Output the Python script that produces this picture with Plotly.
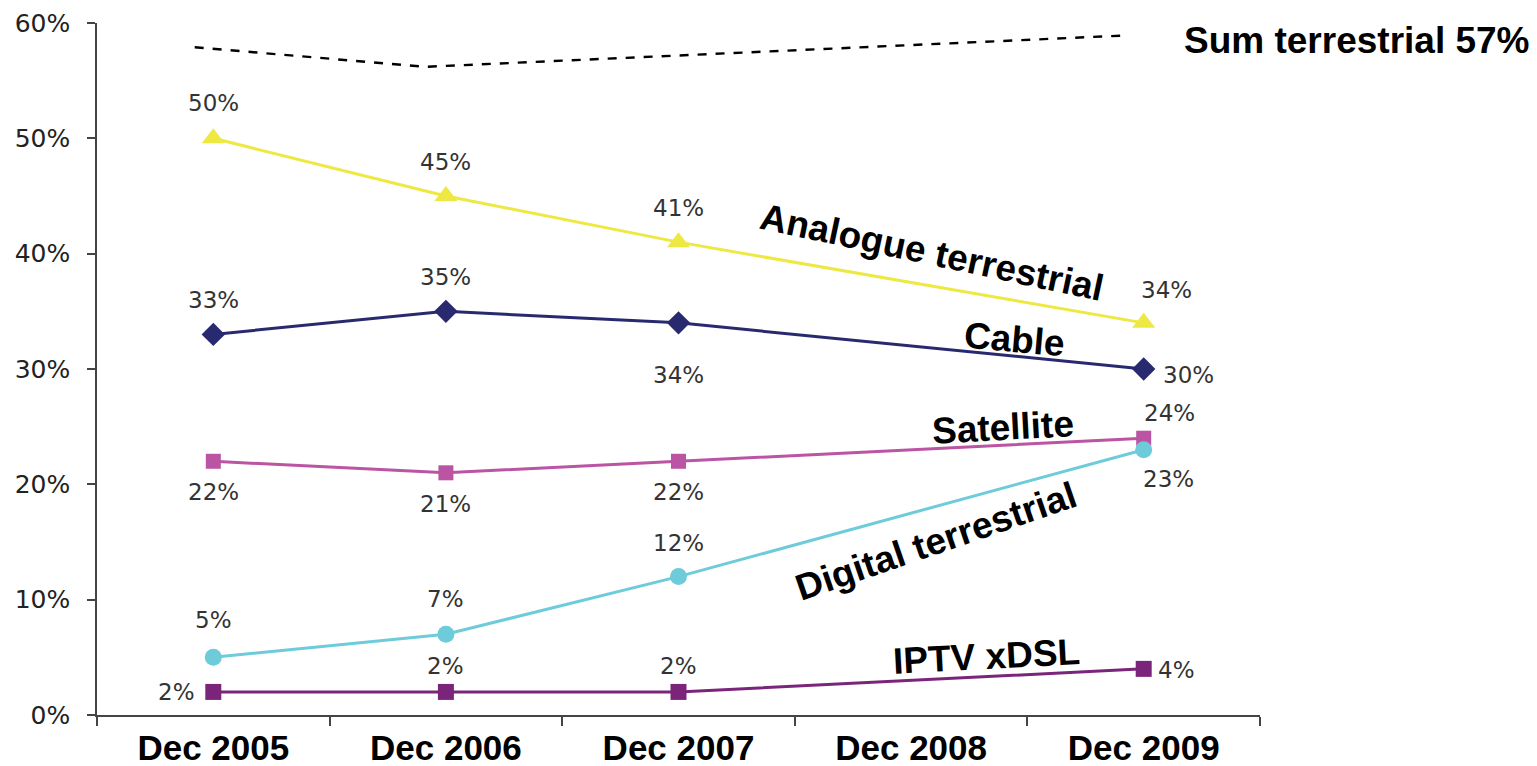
import plotly.graph_objects as go

# ---------------- data ----------------
categories = ["Dec 2005", "Dec 2006", "Dec 2007", "Dec 2008", "Dec 2009"]
point_dates = ["Dec 2005", "Dec 2006", "Dec 2007", "Dec 2009"]

analogue = [50, 45, 41, 34]
cable = [33, 35, 34, 30]
satellite = [22, 21, 22, 24]
digital = [5, 7, 12, 23]
iptv = [2, 2, 2, 4]

# decorative dashed "Sum terrestrial" guide line
sum_x = [-0.08, 0.91, 3.90]
sum_values = [57.9, 56.2, 58.9]
sum_label = "Sum terrestrial 57%"

y_ticks = [0, 10, 20, 30, 40, 50, 60]
y_tick_labels = [f"{v}%" for v in y_ticks]

# ---------------- styles ----------------
series = [
    dict(name="Analogue terrestrial", y=analogue, color="#EDE842", symbol="triangle-up", size=20,
         offsets=[(0, 35), (0, 34), (0, 34), (23, 33)]),
    dict(name="Cable", y=cable, color="#29296F", symbol="diamond", size=18,
         offsets=[(0, 34), (0, 34), (0, -52), (45, -6)]),
    dict(name="Satellite", y=satellite, color="#BA54A3", symbol="square", size=15,
         offsets=[(0, -31), (0, -31), (0, -31), (26, 25)]),
    dict(name="Digital terrestrial", y=digital, color="#6ECBDA", symbol="circle", size=17,
         offsets=[(0, 37), (0, 35), (0, 34), (25, -29)]),
    dict(name="IPTV xDSL", y=iptv, color="#7A2579", symbol="square", size=16,
         offsets=[(-37, 0), (0, 26), (0, 26), (33, -1)]),
]

label_font = dict(family="DejaVu Sans, Verdana, sans-serif", size=23, color="#333333")
axis_font = dict(family="DejaVu Sans, Verdana, sans-serif", size=25, color="#222222")
bold_font = dict(family="Liberation Sans, Arial, sans-serif", size=37, color="#000000")
xtick_font = dict(family="Liberation Sans, Arial, sans-serif", size=35, color="#000000")

fig = go.Figure()

fig.add_trace(go.Scatter(
    x=sum_x, y=sum_values, xaxis="x2", yaxis="y", mode="lines",
    line=dict(color="#000000", width=2.4, dash="dash"), showlegend=False, hoverinfo="skip"))

annotations = []
for s in series:
    fig.add_trace(go.Scatter(
        x=point_dates, y=s["y"], mode="lines+markers", name=s["name"],
        line=dict(color=s["color"], width=3),
        marker=dict(color=s["color"], symbol=s["symbol"], size=s["size"]),
        showlegend=False))
    for xd, yv, (dx, dy) in zip(point_dates, s["y"], s["offsets"]):
        annotations.append(dict(
            x=xd, y=yv, xref="x", yref="y", text=f"{yv}%", showarrow=False,
            xshift=dx, yshift=dy, font=label_font, xanchor="center", yanchor="middle"))

# series name labels (paper coordinates)
series_labels = [
    ("Analogue terrestrial", 0.718, 0.668, 12),
    ("Cable", 0.789, 0.542, 5),
    ("Satellite", 0.779, 0.415, -3),
    ("Digital terrestrial", 0.721, 0.251, -19),
    ("IPTV xDSL", 0.765, 0.085, -3),
    (sum_label, 1.083, 0.975, 0),
]
for text, xp, yp, ang in series_labels:
    annotations.append(dict(
        x=xp, y=yp, xref="paper", yref="paper", text=f"<b>{text}</b>", showarrow=False,
        textangle=ang, font=bold_font, xanchor="center", yanchor="middle"))

fig.update_layout(
    width=1537, height=766,
    margin=dict(l=97, r=277, t=23, b=51, autoexpand=False),
    paper_bgcolor="white", plot_bgcolor="white",
    showlegend=False,
    xaxis=dict(
        type="category", categoryorder="array", categoryarray=categories,
        range=[-0.5, 4.5], tickson="boundaries", ticks="outside", ticklen=9,
        tickcolor="#444444", tickwidth=1.5, showline=True, linecolor="#444444", linewidth=1.5,
        showgrid=False, zeroline=False, tickfont=xtick_font,
        tickprefix="<b>", ticksuffix="</b>", automargin=False, ticklabelstandoff=1),
    xaxis2=dict(range=[-0.5, 4.5], overlaying="x", visible=False, showgrid=False, zeroline=False),
    yaxis=dict(
        range=[0, 60], tickvals=y_ticks, ticktext=y_tick_labels, ticks="outside", ticklen=8,
        tickcolor="#444444", tickwidth=1.5, showline=True, linecolor="#444444", linewidth=1.5,
        showgrid=False, zeroline=False, tickfont=axis_font, automargin=False,
        ticklabelstandoff=12),
    annotations=annotations,
)

fig.write_html("out.html", config={"displayModeBar": False},
               post_script="document.body.style.margin='0';")
